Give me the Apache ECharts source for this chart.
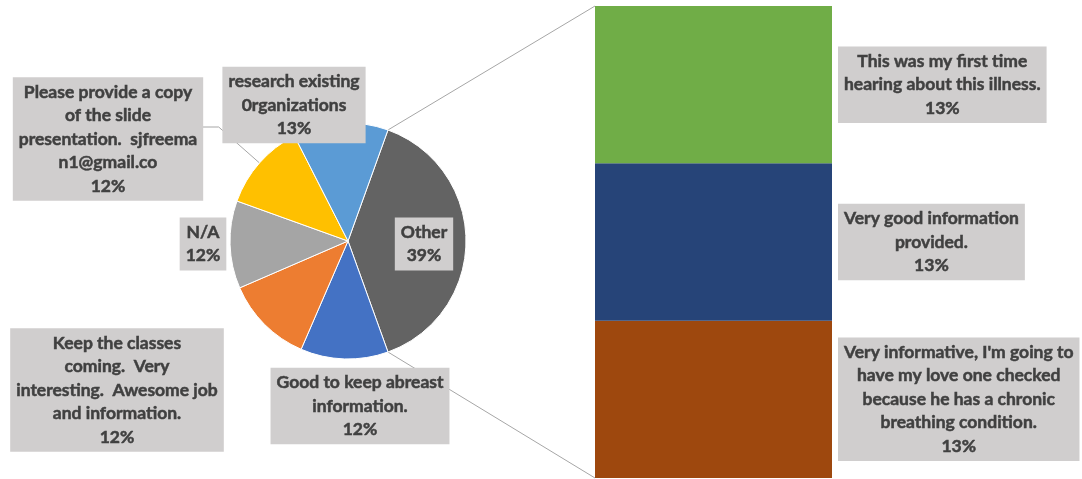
<!DOCTYPE html>
<html>
<head>
<meta charset="utf-8">
<script src="https://cdn.jsdelivr.net/npm/echarts@6/dist/echarts.min.js"></script>
<style>
  html, body { margin: 0; padding: 0; background: #ffffff; }
  #chart { width: 1082px; height: 479px; }
</style>
</head>
<body>
<div id="chart"></div>
<script>
// Pie: individual answers, with the remaining answers gathered into "Other"
const pieNames = [
  'Other',
  'Good to keep abreast\ninformation.',
  'Keep the classes\ncoming.  Very\ninteresting.  Awesome job\nand information.',
  'N/A',
  'Please provide a copy\nof the slide\npresentation.  sjfreema\nn1@gmail.co',
  'research existing\n0rganizations'
];
const pieValues = [39, 12, 12, 12, 12, 13];
const pieColors = ['#636363', '#4472C4', '#ED7D31', '#A5A5A5', '#FFC000', '#5B9BD5'];

// Breakdown of "Other", listed from the bottom of the stack upwards
const barNames = [
  "Very informative, I'm going to\nhave my love one checked\nbecause he has a chronic\nbreathing condition.",
  'Very good information\nprovided.',
  'This was my first time\nhearing about this illness.'
];
const barValues = [13, 13, 13];
const barColors = ['#9E480E', '#264478', '#70AD47'];

// Layout
const PIE_CX = 348, PIE_CY = 241, PIE_R = 118;
const BAR_LEFT = 595, BAR_TOP = 6, BAR_W = 237, BAR_H = 472;
const pieLabelAt = [[424, 244], [360, 406], [117, 390], [203, 244], [108, 139], [294, 105]];
const LEADER_SLICE = 4;          // slice whose label sits away from the pie
const LEADER_ELBOW_DY = -12;     // elbow height relative to that label's centre

const total = pieValues.reduce((a, b) => a + b, 0);
const otherHalfAngle = pieValues[0] / total * 180; // "Other" is centred on 3 o'clock
const barTotal = barValues.reduce((a, b) => a + b, 0);

const labelBox = {
  fontFamily: 'Lato',
  fontSize: 17.5,
  fontWeight: 'bold',
  color: '#404040',
  textBorderColor: '#404040',
  textBorderWidth: 0.5,
  lineHeight: 23.5,
  backgroundColor: '#D0CECE',
  padding: [3, 6, 3, 6]
};

// Pixel point on the pie rim at a given ECharts angle (degrees, 0 = 3 o'clock, counter-clockwise positive)
function rim(angleDeg, r) {
  const a = angleDeg * Math.PI / 180;
  return [PIE_CX + r * Math.cos(a), PIE_CY - r * Math.sin(a)];
}

const edgeTop = rim(otherHalfAngle, PIE_R);
const edgeBottom = rim(-otherHalfAngle, PIE_R);

// Leader line: from the middle of the slice's rim, radially out to the label's level, then across
let acc = 0;
for (let i = 0; i < LEADER_SLICE; i++) acc += pieValues[i];
const midAngle = otherHalfAngle - (acc + pieValues[LEADER_SLICE] / 2) / total * 360;
const leadStart = rim(midAngle, PIE_R);
const elbowY = pieLabelAt[LEADER_SLICE][1] + LEADER_ELBOW_DY;
const ma = midAngle * Math.PI / 180;
const tToElbow = (PIE_CY - elbowY) / Math.sin(ma);
const elbow = [PIE_CX + tToElbow * Math.cos(ma), elbowY];
const leadEnd = [pieLabelAt[LEADER_SLICE][0], elbowY];

const chart = echarts.init(document.getElementById('chart'), null, { renderer: 'canvas' });

chart.setOption({
  animation: false,
  textStyle: { fontFamily: 'Lato' },
  grid: { left: BAR_LEFT, top: BAR_TOP, width: BAR_W, height: BAR_H, containLabel: false },
  xAxis: { type: 'category', data: ['Other'], show: false },
  yAxis: { type: 'value', min: 0, max: barTotal, show: false },
  graphic: [
    { type: 'line', silent: true, z: 0,
      shape: { x1: edgeTop[0], y1: edgeTop[1], x2: BAR_LEFT, y2: BAR_TOP },
      style: { stroke: '#A6A6A6', lineWidth: 1 } },
    { type: 'line', silent: true, z: 0,
      shape: { x1: edgeBottom[0], y1: edgeBottom[1], x2: BAR_LEFT, y2: BAR_TOP + BAR_H },
      style: { stroke: '#A6A6A6', lineWidth: 1 } },
    { type: 'polyline', silent: true, z: 0,
      shape: { points: [leadStart, elbow, leadEnd] },
      style: { stroke: '#A6A6A6', lineWidth: 1, fill: null } }
  ],
  series: [
    {
      type: 'pie',
      center: [PIE_CX, PIE_CY],
      radius: [0, PIE_R],
      startAngle: otherHalfAngle,
      clockwise: true,
      avoidLabelOverlap: false,
      z: 3,
      itemStyle: { borderColor: '#ffffff', borderWidth: 1 },
      label: Object.assign({
        show: true,
        position: 'outside',
        formatter: p => p.name + '\n' + p.value + '%'
      }, labelBox),
      labelLine: { show: false },
      labelLayout: p => {
        const c = pieLabelAt[p.dataIndex];
        return { x: c[0], y: c[1], align: 'center', verticalAlign: 'middle' };
      },
      data: pieNames.map((n, i) => ({
        name: n,
        value: pieValues[i],
        itemStyle: { color: pieColors[i] }
      }))
    }
  ].concat(barNames.map((n, i) => ({
    type: 'bar',
    name: n,
    stack: 'other',
    barWidth: '100%',
    itemStyle: { color: barColors[i] },
    label: Object.assign({
      show: true,
      position: 'inside',
      formatter: p => p.seriesName + '\n' + p.value + '%'
    }, labelBox),
    labelLayout: p => ({
      x: p.rect.x + p.rect.width + 6 + p.labelRect.width / 2,
      y: p.rect.y + p.rect.height / 2,
      align: 'center',
      verticalAlign: 'middle'
    }),
    data: [barValues[i]]
  })))
});
</script>
</body>
</html>
